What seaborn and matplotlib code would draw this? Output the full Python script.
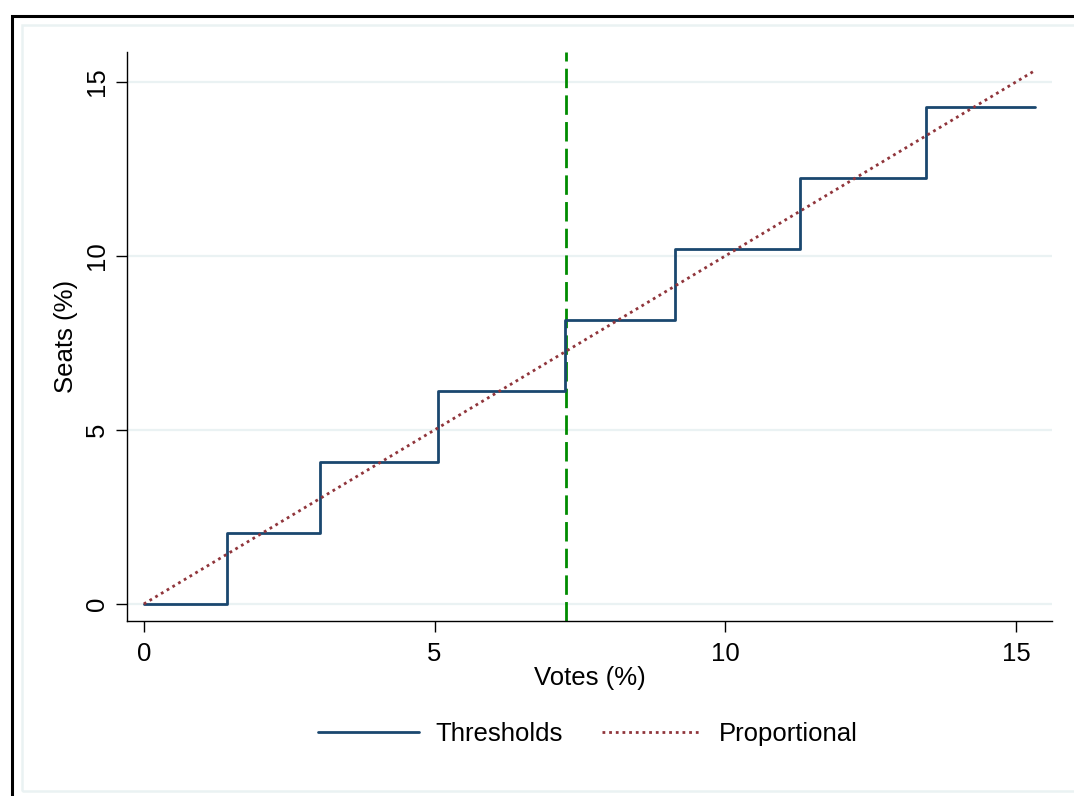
import matplotlib.pyplot as plt
import matplotlib.patches as mpatches
import pandas as pd
import seaborn as sns

# Data
thresholds = [0, 1.43, 3.03, 5.06, 7.24, 9.13, 11.28, 13.45, 15.33]
seats = [0, 2.04, 4.08, 6.12, 8.16, 10.2, 12.24, 14.29, 14.29]
prop_votes = [0, 15.33]
prop_seats = [0, 15.33]
cutoff = 7.26

x_ticks = [0, 5, 10, 15]
y_ticks = [0, 5, 10, 15]

# Colors (Stata s2color-ish)
navy = "#1a476f"
maroon = "#90353b"
green = "#008c00"
grid_color = "#eaf2f3"

sns.set_style("white")
plt.rcParams["font.family"] = ["Liberation Sans", "DejaVu Sans"]
plt.rcParams["text.color"] = "black"
plt.rcParams["axes.labelcolor"] = "black"
plt.rcParams["xtick.color"] = "black"
plt.rcParams["ytick.color"] = "black"

df_steps = pd.DataFrame({"votes": thresholds, "seats": seats})
df_prop = pd.DataFrame({"votes": prop_votes, "seats": prop_seats})

fig = plt.figure(figsize=(10.74, 7.96), dpi=100)
fig.set_facecolor("white")

# outer frame and inner light frame
fig.patches.append(mpatches.Rectangle((12 / 1074, -0.2), 2, (796 - 16) / 796 + 0.2,
                                      transform=fig.transFigure, fill=False,
                                      edgecolor="black", lw=2.2, zorder=0))
fig.patches.append(mpatches.Rectangle((22 / 1074, 1 - 791 / 796), 2, (791 - 25) / 796,
                                      transform=fig.transFigure, fill=False,
                                      edgecolor=grid_color, lw=1.8, zorder=0))

ax = fig.add_axes([127 / 1074, 1 - 621 / 796, (1052 - 127) / 1074, (621 - 52) / 796])
ax.set_facecolor("white")

sns.lineplot(data=df_steps, x="votes", y="seats", drawstyle="steps-post",
             color=navy, lw=2.0, ax=ax, label="Thresholds", zorder=3)
sns.lineplot(data=df_prop, x="votes", y="seats", color=maroon, lw=2.0,
             linestyle=(0, (1, 1.4)), ax=ax, label="Proportional", zorder=4)
ax.axvline(cutoff, color=green, lw=2.0, linestyle=(0, (7, 2.6)), zorder=2)

ax.set_xlim(-0.29, 15.62)
ax.set_ylim(-0.49, 15.86)
ax.set_xticks(x_ticks)
ax.set_yticks(y_ticks)
ax.set_yticklabels([str(t) for t in y_ticks], rotation=90, va="center")

for t in y_ticks:
    ax.axhline(t, color=grid_color, lw=1.6, zorder=1)

ax.spines[["top", "right"]].set_visible(False)
ax.spines[["left", "bottom"]].set(color="black", lw=1.0)
ax.tick_params(axis="both", direction="out", length=8, width=1.0, color="black",
               labelcolor="black", labelsize=18.5, left=True, bottom=True)
ax.tick_params(axis="x", pad=7)
ax.tick_params(axis="y", pad=5)

ax.set_xlabel("Votes (%)", fontsize=18.5, labelpad=0, color="black")
ax.set_ylabel("Seats (%)", fontsize=18.5, labelpad=5, color="black")

handles, labels = ax.get_legend_handles_labels()
ax.get_legend().remove()
leg = fig.legend(handles, labels, loc="center", bbox_to_anchor=(588 / 1074, 1 - 734 / 796),
                 ncol=2, frameon=False, fontsize=18.5, handlelength=3.9,
                 columnspacing=1.5, handletextpad=0.66)
for txt in leg.get_texts():
    txt.set_color("black")

plt.savefig("out.png", dpi=100)
